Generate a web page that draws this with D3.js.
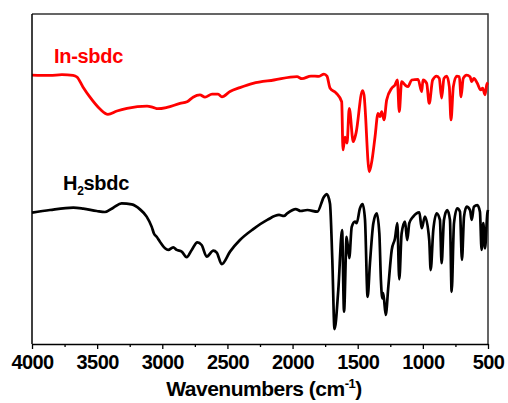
<!DOCTYPE html>
<html>
<head>
<meta charset="utf-8">
<script src="https://cdn.jsdelivr.net/npm/d3@7/dist/d3.min.js"></script>
<style>
  html, body { margin: 0; padding: 0; background: #fff; }
  svg { display: block; font-family: "Liberation Sans", Arial, sans-serif; }
</style>
</head>
<body>
<svg id="chart" width="508" height="403"></svg>
<script>
// Wavenumber (cm^-1) and transmittance (a.u., offset spectra)
const inWavenumbers = [4000,3862,3770,3685,3655,3609,3555,3478,3417,3348,3271,3117,3071,3033,2964,2864,2810,2764,2711,2672,2618,2572,2542,2480,2404,2304,2143,1966,1928,1859,1797,1759,1736,1713,1667,1623,1613,1598,1582,1565,1534,1513,1463,1452,1411,1390,1367,1344,1329,1316,1298,1278,1239,1214,1196,1181,1163,1137,1114,1086,1037,1009,999,971,951,925,894,874,856,838,817,797,784,766,740,720,707,690,664,638,625,608,582,556,541,523,510,500];
const inValues = [81.5,81.4,81.6,81.4,80.9,77.9,74.8,71.2,69.6,70.6,71.4,72.1,71.7,71.3,71.7,72.9,73.4,74.8,75.5,74.8,75.7,75.7,74.9,76.5,77.7,79.0,80.0,81.0,80.4,81.2,81.1,81.8,81.2,77.6,76.1,73.4,58.8,62.7,60.9,71.4,61.3,63.9,76.8,75.5,52.2,55.8,62.8,69.9,68.9,70.4,67.9,73.9,77.5,78.5,80.0,70.4,79.5,78.5,78.0,80.0,80.2,76.5,80.0,79.0,72.9,80.0,81.2,80.5,74.5,80.5,81.2,78.0,67.9,78.0,81.2,81.0,74.9,80.5,81.5,81.0,79.5,80.5,79.0,77.0,77.5,75.5,78.5,79.2];

const h2Wavenumbers = [4000,3862,3683,3606,3503,3440,3376,3312,3235,3171,3120,3081,3064,3043,3018,2979,2954,2916,2889,2851,2813,2774,2731,2698,2659,2608,2582,2544,2480,2404,2302,2194,2104,2066,2041,1976,1938,1887,1810,1759,1738,1713,1695,1678,1649,1620,1605,1585,1565,1546,1521,1508,1483,1462,1444,1424,1406,1380,1354,1334,1322,1311,1304,1285,1265,1239,1214,1196,1181,1163,1137,1120,1104,1074,1027,1009,984,951,940,920,894,869,856,838,813,792,779,761,736,715,700,684,664,638,625,608,582,562,549,536,523,505,500];
const h2Values = [39.8,40.6,41.3,41.0,40.3,40.0,41.3,42.6,42.3,40.8,38.6,35.5,33.5,32.5,31.0,29.0,28.5,29.3,28.5,28.0,26.3,28.5,30.8,30.0,26.5,28.3,27.7,24.2,28.0,31.5,34.8,37.6,39.1,38.8,39.6,40.9,40.3,40.6,40.1,44.6,45.4,42.6,25.5,4.5,16.4,34.5,9.8,32.5,26.0,35.5,37.1,36.6,41.1,42.4,37.6,14.3,24.5,36.6,39.6,33.5,19.4,13.8,15.4,8.8,17.4,28.5,32.0,36.6,19.6,33.5,37.1,31.5,36.6,38.6,39.9,35.1,38.6,31.5,22.4,34.5,39.6,37.6,24.5,37.6,40.6,37.6,15.8,36.6,41.1,40.1,25.5,38.6,41.6,40.6,37.6,41.6,42.1,40.1,28.5,36.6,29.0,39.6,40.6];

const majorTicks = [4000,3500,3000,2500,2000,1500,1000,500];
const minorTicks = [3750,3250,2750,2250,1750,1250,750];
const xTitle = "Wavenumbers (cm";
const xTitleSup = "-1";
const seriesNames = ["In-sbdc", "H", "2", "sbdc"];
const seriesColors = ["#ff0000", "#000000"];

const svg = d3.select("#chart");
const L = 32, R = 488, T = 14, B = 344;
const x = d3.scaleLinear().domain([4000, 500]).range([L, R]);
const y = d3.scaleLinear().domain([0, 100]).range([B, T]);

// frame
svg.append("path")
  .attr("d", `M${L},${T}H${R}V${B}`)
  .attr("fill", "none").attr("stroke", "#333").attr("stroke-width", 1.5);

const line = d3.line().x(d => x(d[0])).y(d => y(d[1])).curve(d3.curveMonotoneX);

svg.append("path")
  .datum(inWavenumbers.map((w, i) => [w, inValues[i]]))
  .attr("fill", "none").attr("stroke", seriesColors[0]).attr("stroke-width", 2.8)
  .attr("stroke-linejoin", "round").attr("d", line);

svg.append("path")
  .datum(h2Wavenumbers.map((w, i) => [w, h2Values[i]]))
  .attr("fill", "none").attr("stroke", seriesColors[1]).attr("stroke-width", 2.7)
  .attr("stroke-linejoin", "round").attr("d", line);

// left axis line
svg.append("line").attr("x1", L).attr("x2", L).attr("y1", T).attr("y2", B)
  .attr("stroke", "#000").attr("stroke-width", 1.5);

// bottom axis
const gx = svg.append("g").attr("transform", `translate(0,${B})`)
  .call(d3.axisBottom(x).tickValues(majorTicks).tickSize(5).tickSizeOuter(0).tickPadding(6).tickFormat(d3.format("d")));
gx.select(".domain").attr("stroke", "#000").attr("stroke-width", 1.5);
gx.selectAll(".tick line").attr("stroke", "#000").attr("stroke-width", 1.3);
gx.selectAll(".tick text").attr("font-size", 20).attr("font-weight", "bold")
  .attr("fill", "#000").attr("font-family", "'Liberation Sans', Arial, sans-serif")
  .attr("letter-spacing", -0.6);
const gm = svg.append("g").attr("transform", `translate(0,${B})`)
  .call(d3.axisBottom(x).tickValues(minorTicks).tickSize(3).tickSizeOuter(0).tickFormat(""));
gm.select(".domain").remove();
gm.selectAll(".tick line").attr("stroke", "#000").attr("stroke-width", 1.3);

// x title
const title = svg.append("text").attr("x", (L + R) / 2 + 4).attr("y", 396)
  .attr("text-anchor", "middle").attr("font-size", 21).attr("font-weight", "bold")
  .attr("letter-spacing", -0.5).attr("fill", "#000");
title.append("tspan").text(xTitle);
title.append("tspan").attr("font-size", 13).attr("dy", -8).text(xTitleSup);
title.append("tspan").attr("dy", 8).text(")");

// series labels
svg.append("text").attr("x", 54).attr("y", 63).attr("font-size", 20).attr("font-weight", "bold")
  .attr("fill", seriesColors[0]).attr("letter-spacing", -0.3).text(seriesNames[0]);
const h2 = svg.append("text").attr("x", 63).attr("y", 190).attr("font-size", 20).attr("font-weight", "bold")
  .attr("fill", seriesColors[1]).attr("letter-spacing", -0.3);
h2.append("tspan").text(seriesNames[1]);
h2.append("tspan").attr("font-size", 12).attr("dy", 5).text(seriesNames[2]);
h2.append("tspan").attr("dy", -5).text(seriesNames[3]);
</script>
</body>
</html>
